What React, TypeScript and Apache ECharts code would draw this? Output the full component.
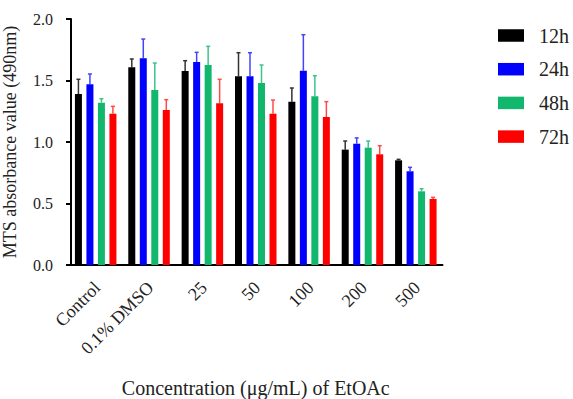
import React, { useEffect, useRef } from "react";
import * as echarts from "echarts";

const categories = ["Control", "0.1% DMSO", "25", "50", "100", "200", "500"];
const seriesNames = ["12h", "24h", "48h", "72h"];
const colors = ["#000000", "#0000ff", "#12b76e", "#ff0000"];
const errColors = ["#333333", "#4444ff", "#3cc48a", "#ff4a4a"];

const mean12 = [1.39, 1.607, 1.577, 1.534, 1.328, 0.938, 0.851];
const mean24 = [1.469, 1.68, 1.65, 1.534, 1.58, 0.986, 0.762];
const mean48 = [1.32, 1.423, 1.626, 1.48, 1.371, 0.954, 0.599];
const mean72 = [1.23, 1.26, 1.315, 1.23, 1.203, 0.9, 0.537];

const upper12 = [1.51, 1.675, 1.661, 1.726, 1.439, 1.008, 0.859];
const upper24 = [1.553, 1.837, 1.729, 1.726, 1.872, 1.033, 0.794];
const upper48 = [1.352, 1.642, 1.778, 1.626, 1.539, 1.008, 0.62];
const upper72 = [1.29, 1.344, 1.51, 1.341, 1.328, 0.97, 0.55];

const yTicks = [0, 0.5, 1.0, 1.5, 2.0];

const means = [mean12, mean24, mean48, mean72];
const uppers = [upper12, upper24, upper48, upper72];

const BAR_W = 7;
const BAR_GAP = 4.5;
const FONT = "Liberation Serif";

export default function App() {
  const ref = useRef<HTMLDivElement>(null);
  useEffect(() => {
    if (!ref.current) return;
    const chart = echarts.init(ref.current, null, { renderer: "svg" });
    const barSeries = seriesNames.map((name, i) => ({
      name,
      type: "bar",
      data: means[i],
      barWidth: BAR_W,
      barGap: ((BAR_GAP / BAR_W) * 100).toFixed(1) + "%",
      itemStyle: { color: colors[i] },
      z: 2,
    }));
    const errSeries = seriesNames.map((name, i) => ({
      name: name + "_err",
      type: "custom",
      data: categories.map((c, k) => [k, means[i][k], uppers[i][k]]),
      encode: { x: 0, y: [1, 2] },
      z: 1,
      renderItem: (params: any, api: any) => {
        const k = api.value(0);
        const base = api.coord([k, api.value(1)]);
        const top = api.coord([k, api.value(2)]);
        const off = (i - 1.5) * (BAR_W + BAR_GAP);
        const x = base[0] + off;
        const style = { stroke: errColors[i], lineWidth: 1.5 };
        return {
          type: "group",
          children: [
            { type: "line", shape: { x1: x, y1: base[1], x2: x, y2: top[1] }, style },
            { type: "line", shape: { x1: x - 2, y1: top[1], x2: x + 2, y2: top[1] }, style },
          ],
        };
      },
    }));
    chart.setOption({
      animation: false,
      backgroundColor: "#ffffff",
      textStyle: { fontFamily: FONT },
      legend: {
        data: seriesNames,
        orient: "vertical",
        left: 498,
        top: 25.5,
        padding: 0,
        itemWidth: 26,
        itemHeight: 12.5,
        itemGap: 13.7,
        icon: "rect",
        textStyle: {
          fontFamily: FONT,
          fontSize: 20,
          color: "#222",
          padding: [0, 0, 0, 10],
        },
      },
      grid: {
        left: 69,
        top: 19,
        width: 373.5,
        height: 246,
        containLabel: false,
        outerBoundsMode: "none",
      },
      xAxis: {
        type: "category",
        data: categories,
        name: "Concentration (μg/mL) of EtOAc",
        nameLocation: "middle",
        nameGap: 113,
        nameTextStyle: { fontFamily: FONT, fontSize: 20, color: "#222" },
        axisLine: { lineStyle: { color: "#000", width: 2 } },
        axisTick: { alignWithLabel: true, length: 7, lineStyle: { color: "#000", width: 2 } },
        axisLabel: {
          rotate: 45,
          margin: 21,
          padding: [0, -2, 0, 0],
          fontFamily: FONT,
          fontSize: 18,
          color: "#222",
        },
      },
      yAxis: {
        type: "value",
        min: 0,
        max: 2,
        interval: 0.5,
        offset: -2,
        name: "MTS absorbance value (490nm)",
        nameLocation: "middle",
        nameGap: 52,
        nameTextStyle: { fontFamily: FONT, fontSize: 18, color: "#222" },
        axisLine: { show: true, lineStyle: { color: "#000", width: 2 } },
        axisTick: { show: true, length: 5, lineStyle: { color: "#000", width: 2 } },
        splitLine: { show: false },
        axisLabel: {
          margin: 18,
          fontFamily: FONT,
          fontSize: 16,
          color: "#222",
          formatter: (v: number) => (yTicks.includes(v) ? v.toFixed(1) : ""),
        },
      },
      series: [...errSeries, ...barSeries],
    });
    return () => chart.dispose();
  }, []);
  return (
    <div
      ref={ref}
      style={{ position: "fixed", left: 0, top: 0, width: 573, height: 399 }}
    />
  );
}
